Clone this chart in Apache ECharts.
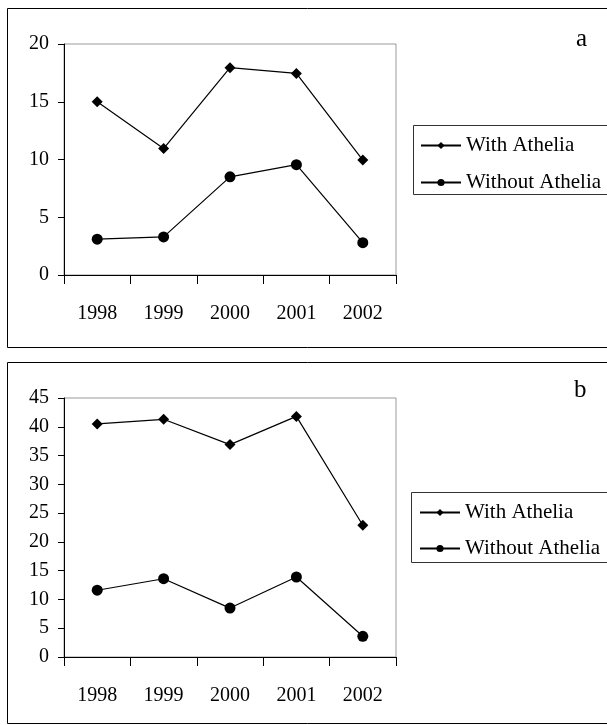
<!DOCTYPE html>
<html><head><meta charset="utf-8">
<script src="https://cdn.jsdelivr.net/npm/echarts@6/dist/echarts.min.js"></script>
<style>html,body{margin:0;padding:0;background:#fff}#c{width:607px;height:725px}</style>
</head><body><div id="c"></div>
<script>
const years = ['1998','1999','2000','2001','2002'];
const aWith = [15, 10.95, 17.95, 17.45, 9.95];
const aWithout = [3.1, 3.3, 8.5, 9.55, 2.8];
const bWith = [40.5, 41.3, 36.9, 41.8, 22.9];
const bWithout = [11.6, 13.6, 8.5, 13.9, 3.6];
const aTicks = {min: 0, max: 20, interval: 5};
const bTicks = {min: 0, max: 45, interval: 5};

const FONT = 'Liberation Serif';
const FS = 20;
const chart = echarts.init(document.getElementById('c'));
function xAx(gi){return {type:'category', gridIndex:gi, data:years, boundaryGap:true,
  axisLine:{lineStyle:{color:'#000',width:1}}, axisTick:{show:true,length:9,lineStyle:{color:'#000'}},
  axisLabel:{color:'#000',fontFamily:FONT,fontSize:FS,margin:29}};}
function yAx(gi,t){return {type:'value', gridIndex:gi, min:t.min, max:t.max, interval:t.interval,
  axisLine:{show:true,lineStyle:{color:'#000',width:1}}, axisTick:{show:true,length:6,lineStyle:{color:'#000'}},
  splitLine:{show:false}, axisLabel:{color:'#000',fontFamily:FONT,fontSize:FS,margin:15}};}
function ser(name,data,gi,sym){return {type:'line', name:name, data:data, xAxisIndex:gi, yAxisIndex:gi,
  symbol:sym, symbolSize: sym==='circle'?11:11, showSymbol:true,
  lineStyle:{color:'#000',width:1.2}, itemStyle:{color:'#000'}, animation:false};}
const legTxt = {color:'#000',fontFamily:FONT,fontSize:21};
chart.setOption({
  animation:false,
  grid:[{left:64, top:44, width:332, height:231, show:true, borderColor:'#999', borderWidth:1, backgroundColor:'transparent'},
        {left:64, top:398, width:332, height:259, show:true, borderColor:'#999', borderWidth:1, backgroundColor:'transparent'}],
  xAxis:[xAx(0), xAx(1)],
  yAxis:[yAx(0,aTicks), yAx(1,bTicks)],
  legend:[
    {left:420, top:135, padding:0, orient:'vertical', itemWidth:40, itemHeight:9, itemGap:16, data:['With Athelia','Without Athelia'],
     textStyle:legTxt},
    {left:419, top:502, padding:0, orient:'vertical', itemWidth:40, itemHeight:9, itemGap:15, data:['With Athelia ','Without Athelia '],
     textStyle:legTxt}
  ],
  graphic:[
    {type:'rect', shape:{x:7.5,y:8.5,width:640,height:339}, style:{fill:'none',stroke:'#000',lineWidth:1}},
    {type:'rect', shape:{x:7.5,y:362.5,width:640,height:361}, style:{fill:'none',stroke:'#000',lineWidth:1}},
    {type:'rect', shape:{x:413.5,y:125.5,width:240,height:69}, style:{fill:'none',stroke:'#333',lineWidth:1}},
    {type:'rect', shape:{x:411.5,y:492.5,width:240,height:70}, style:{fill:'none',stroke:'#333',lineWidth:1}},
    {type:'text', left:576, top:27, style:{text:'a', fill:'#000', font:'25px "Liberation Serif"'}},
    {type:'text', left:574, top:378, style:{text:'b', fill:'#000', font:'25px "Liberation Serif"'}}
  ],
  series:[ser('With Athelia',aWith,0,'diamond'), ser('Without Athelia',aWithout,0,'circle'),
          ser('With Athelia ',bWith,1,'diamond'), ser('Without Athelia ',bWithout,1,'circle')]
});
</script></body></html>
